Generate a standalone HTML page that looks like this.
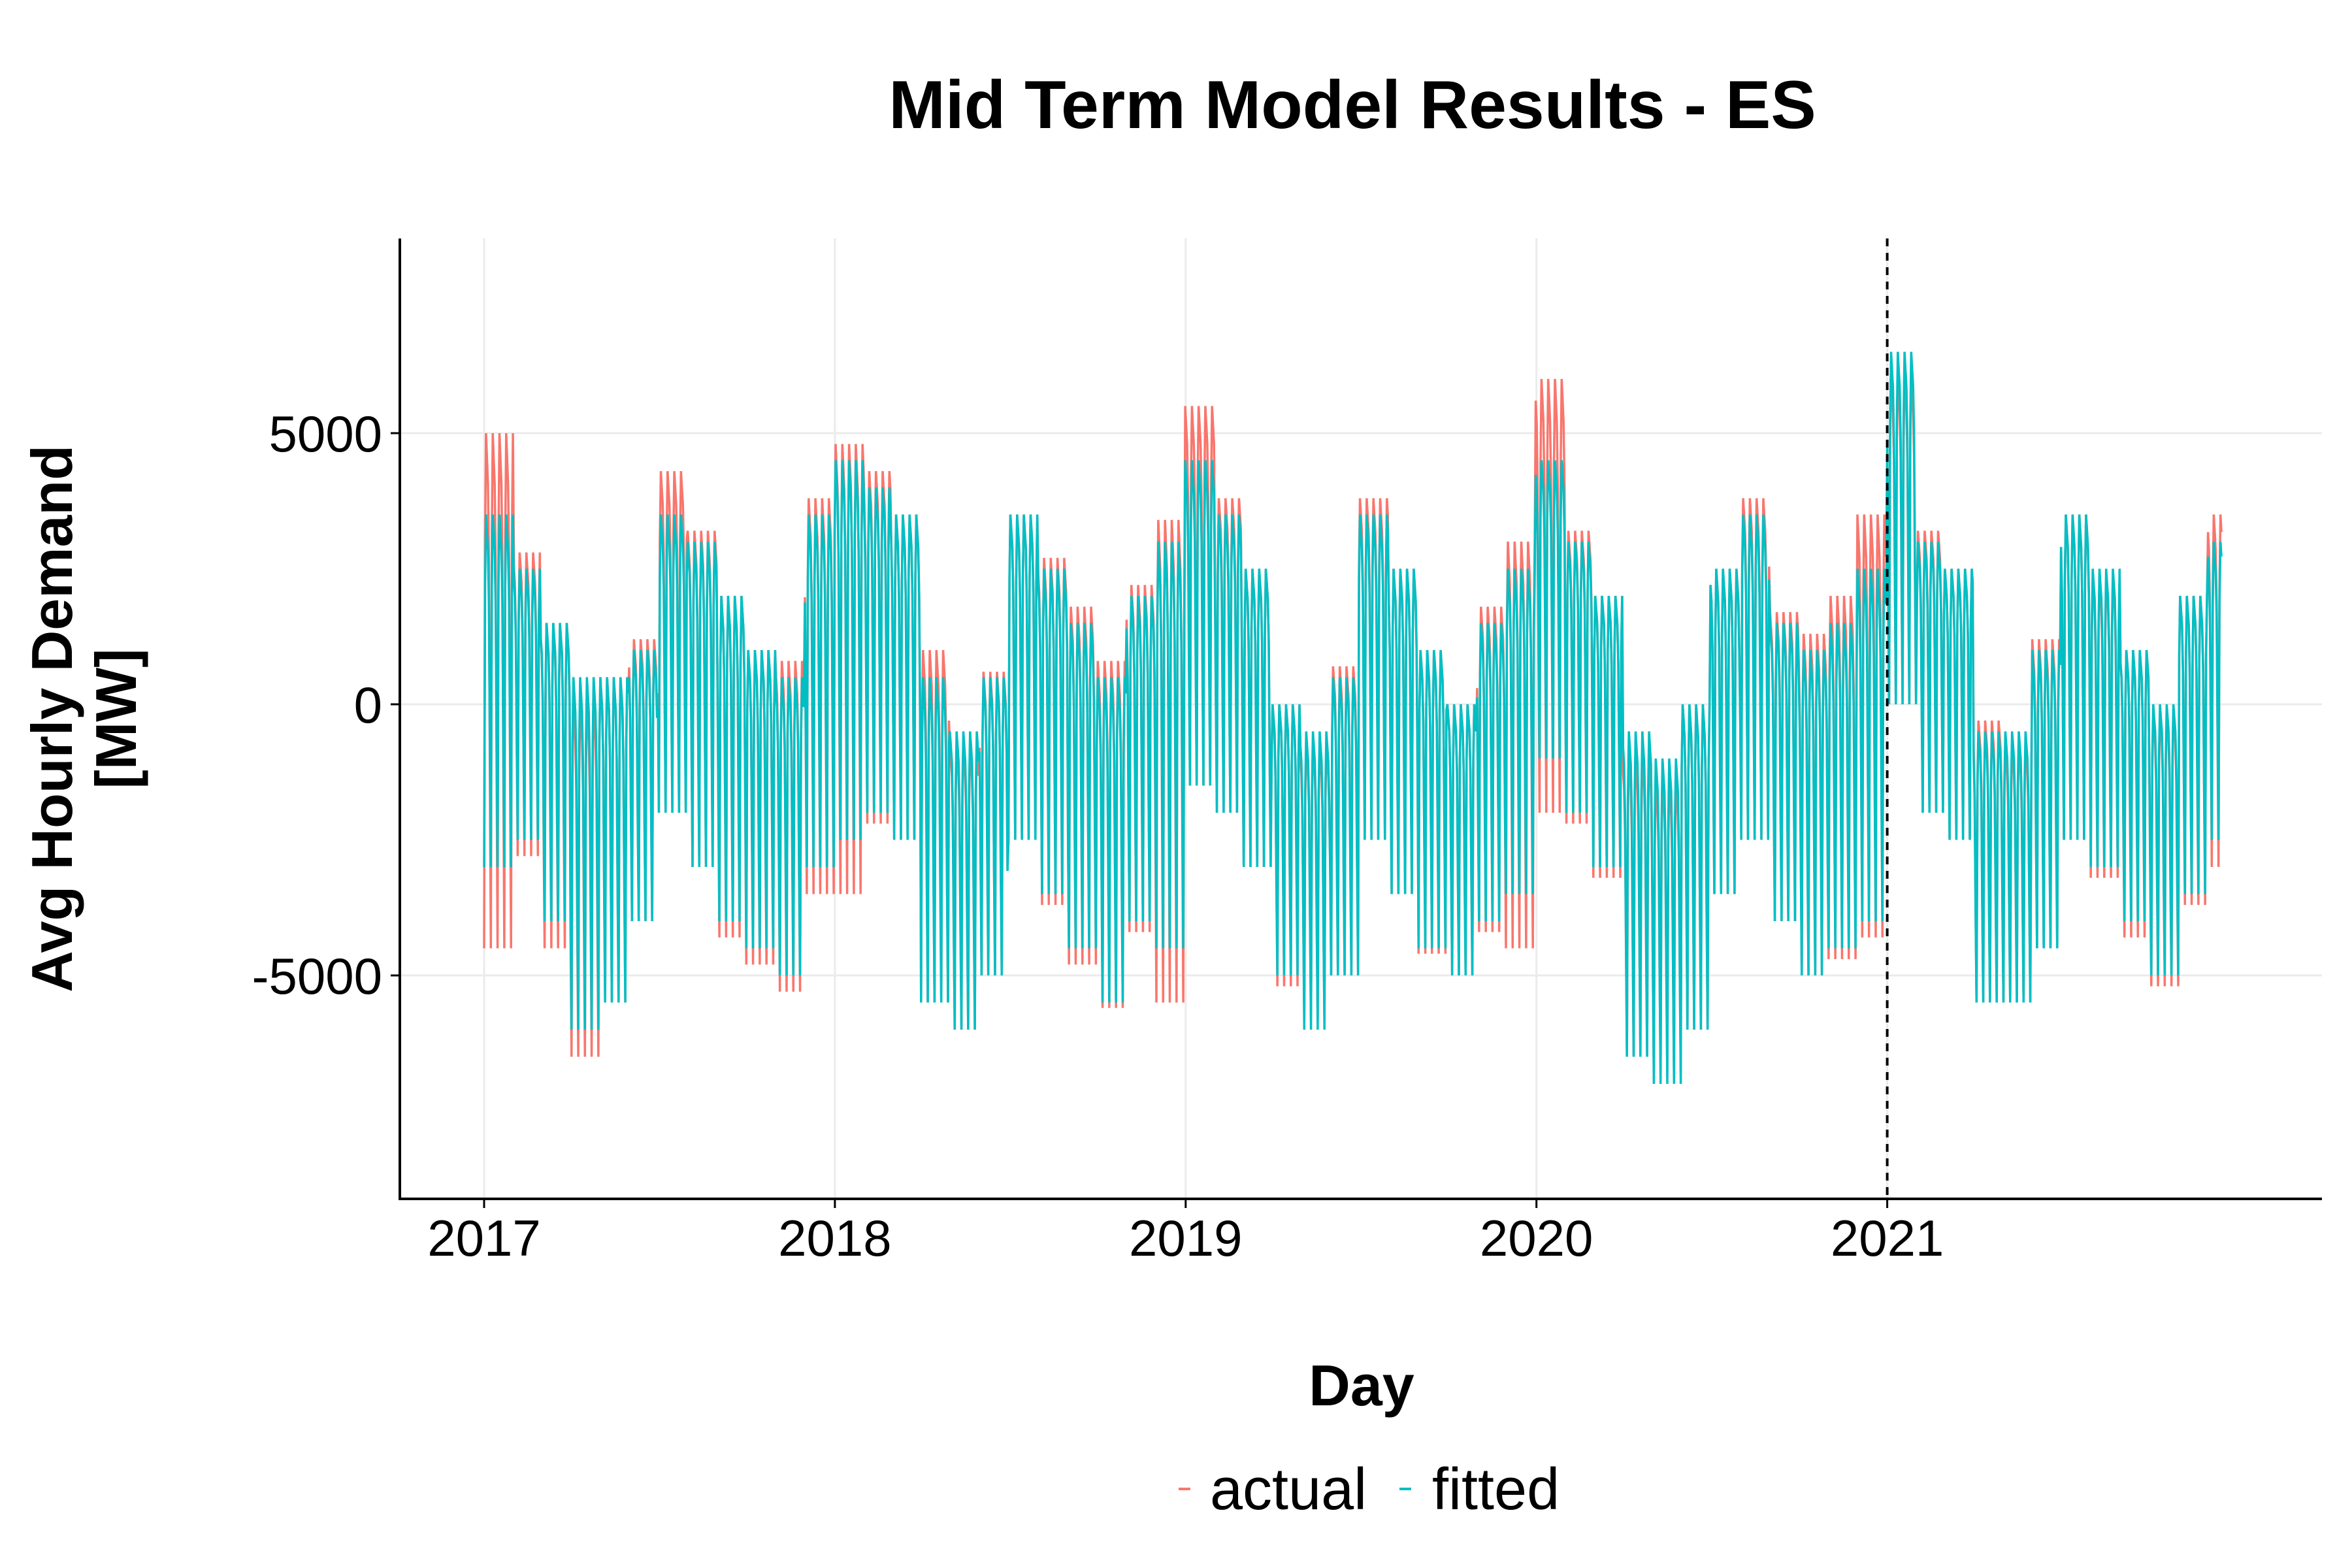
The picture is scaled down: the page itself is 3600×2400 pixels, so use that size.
<!DOCTYPE html>
<html><head><meta charset="utf-8"><style>
html,body{margin:0;padding:0;background:#fff;}
svg{display:block;font-family:"Liberation Sans",Arial,sans-serif;}
</style></head><body>
<svg id="chart" width="3600" height="2400" viewBox="0 0 3600 2400" xmlns="http://www.w3.org/2000/svg">
<text x="2070" y="196" font-size="104" font-weight="bold" text-anchor="middle">Mid Term Model Results - ES</text>
<g id="grid"></g>
<g id="series"></g>
<line id="vline" y1="365" y2="1835" stroke="#000" stroke-width="4" stroke-dasharray="12,10"/>
<line x1="612" y1="365" x2="612" y2="1835" stroke="#000" stroke-width="4"/>
<line x1="610" y1="1835" x2="3554" y2="1835" stroke="#000" stroke-width="4"/>
<g id="axes"></g>
<text x="2084" y="2151" font-size="88" font-weight="bold" text-anchor="middle">Day</text>
<g transform="translate(110,1100) rotate(-90)">
<text x="0" y="0" font-size="88" font-weight="bold" text-anchor="middle">Avg Hourly Demand</text>
<text x="0" y="98" font-size="88" font-weight="bold" text-anchor="middle">[MW]</text>
</g>
<g>
<line x1="1804" y1="2279" x2="1822" y2="2279" stroke="#F8766D" stroke-width="4"/>
<text x="1852" y="2310" font-size="90">actual</text>
<line x1="2142" y1="2279" x2="2160" y2="2279" stroke="#00BFC4" stroke-width="4"/>
<text x="2192" y="2310" font-size="90">fitted</text>
</g>
</svg>
<script>
const yearTicks=[2017,2018,2019,2020,2021];
const yTicks=[-5000,0,5000];
// monthly weekday-peak / weekend-trough envelope (MW), Jan 2017 .. Dec 2021
const fittedUpper=[3500,2500,1500,500,500,1000,3500,3000,2000,1000,500,3500,
 4500,4000,3500,500,-500,500,3500,2500,1500,500,2000,3000,
 4500,3500,2500,0,-500,500,3500,2500,1000,0,1500,2500,
 4500,3000,2000,-500,-1000,0,2500,3500,1500,1000,1500,2500,
 6500,3000,2500,-500,-500,1000,3500,2500,1000,0,2000,3000];
const fittedLower=[-3000,-2500,-4000,-6000,-5500,-4000,-2000,-3000,-4000,-4500,-5000,-3000,
 -2500,-2000,-2500,-5500,-6000,-5000,-2500,-3500,-4500,-5500,-4000,-4500,
 -1500,-2000,-3000,-5000,-6000,-5000,-2500,-3500,-4500,-5000,-4000,-3500,
 -1000,-2000,-3000,-6500,-7000,-6000,-3500,-2500,-4000,-5000,-4500,-4000,
 0,-2000,-2500,-5500,-5500,-4500,-2500,-3000,-4000,-5000,-3500,-2500];
const actualUpper=[5000,2800,1500,0,500,1200,4300,3200,2000,1000,800,3800,
 4800,4300,3500,1000,-800,600,3500,2700,1800,800,2200,3400,
 5500,3800,2500,0,-800,700,3800,2500,1000,0,1800,3000,
 6000,3200,2000,-1000,-1500,0,2500,3800,1700,1300,2000,3500,
 6000,3200,2500,-300,-800,1200,3500,2300,1000,-200,2000,3500];
const actualLower=[-4500,-2800,-4500,-6500,-5500,-4000,-2000,-3000,-4300,-4800,-5300,-3500,
 -3500,-2200,-2500,-5500,-6000,-5000,-2500,-3700,-4800,-5600,-4200,-5500,
 -1500,-2000,-3000,-5200,-5800,-5000,-2500,-3500,-4600,-5000,-4200,-4500,
 -2000,-2200,-3200,-6500,-6800,-6000,-3500,-2500,-4000,-5000,-4700,-4300,
 0,-2000,-2500,-5500,-5500,-4500,-2500,-3200,-4300,-5200,-3700,-3000];
// weekday profile Sun..Sat: share of the way from trough to peak
const weekProfile=[0,0.8,1,0.95,0.9,0.75,0.35];

const X0=741, PXY=536.9, Y0=1078;
function xs(t){return X0+(t-2017)*PXY;}
function ys(v){return Y0+v*(-415/5000);}
const NS='http://www.w3.org/2000/svg';
const grid=document.getElementById('grid'), axes=document.getElementById('axes'), series=document.getElementById('series');
function mk(tag,attrs,parent){const e=document.createElementNS(NS,tag);for(const k in attrs)e.setAttribute(k,attrs[k]);parent.appendChild(e);return e;}
yTicks.forEach(v=>{
 const g=mk('line',{x1:612,x2:3554,y1:ys(v),y2:ys(v),stroke:'#ebebeb','stroke-width':3},grid);
 
 
 const t=mk('line',{x1:598,x2:612,y1:ys(v),y2:ys(v),stroke:'#000','stroke-width':3},axes);
 
 
 const l=mk('text',{x:585,y:ys(v)+28,'font-size':78,'text-anchor':'end'},axes);
 l.textContent=v;
 
 
});
yearTicks.forEach(yr=>{
 const g=mk('line',{x1:xs(yr),x2:xs(yr),y1:365,y2:1835,stroke:'#ebebeb','stroke-width':3},grid);
 
 
 const t=mk('line',{x1:xs(yr),x2:xs(yr),y1:1835,y2:1849,stroke:'#000','stroke-width':3},axes);
 
 
 const l=mk('text',{x:xs(yr),y:1922,'font-size':78,'text-anchor':'middle'},axes);
 l.textContent=yr;
 
 
});
const vl=document.getElementById('vline');vl.setAttribute('x1',xs(2021));vl.setAttribute('x2',xs(2021));
function build(up,lo){
 const pts=[];const start=new Date(Date.UTC(2017,0,1));const end=new Date(Date.UTC(2021,11,15));
 for(let d=new Date(start);d<=end;d=new Date(d.getTime()+86400000)){
  const m=(d.getUTCFullYear()-2017)*12+d.getUTCMonth();const wd=d.getUTCDay();
  const v=lo[m]+(up[m]-lo[m])*weekProfile[wd];
  const t=2017+(d-start)/86400000/365.25;
  pts.push(xs(t).toFixed(1)+','+ys(v).toFixed(1));
 }
 return pts.join(' ');
}
const a=mk('polyline',{points:build(actualUpper,actualLower),fill:'none',stroke:'#F8766D','stroke-width':3.5},series);


const f=mk('polyline',{points:build(fittedUpper,fittedLower),fill:'none',stroke:'#00BFC4','stroke-width':3.5},series);


</script>
</body></html>
